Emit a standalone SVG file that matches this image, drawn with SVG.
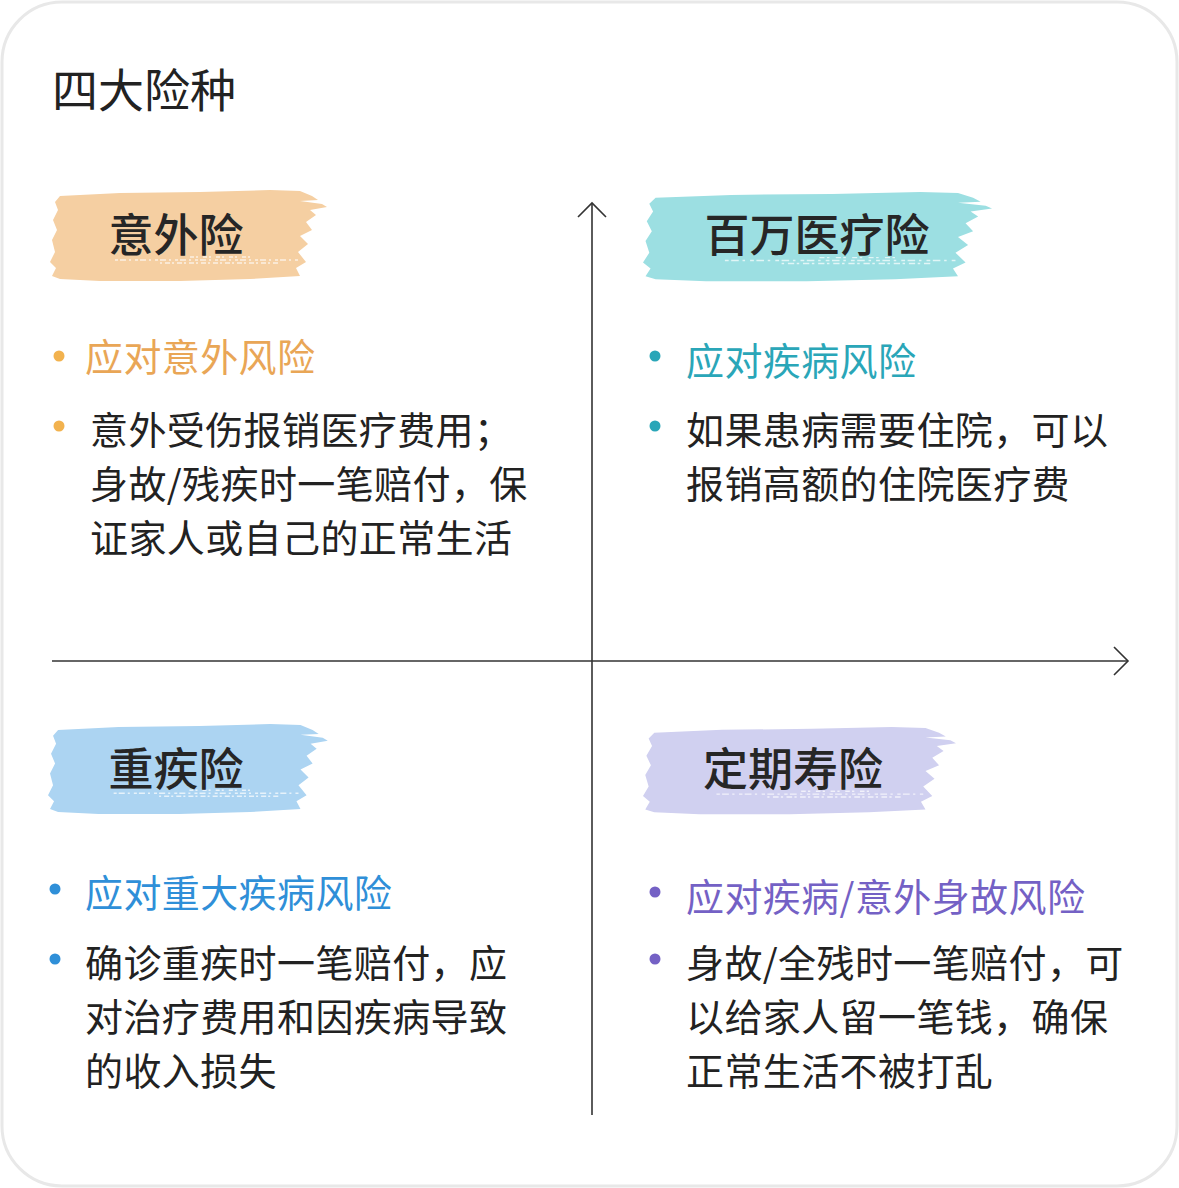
<svg xmlns="http://www.w3.org/2000/svg" width="1179" height="1188" viewBox="0 0 1179 1188">
<style>
text{font-family:"Noto Sans CJK SC","Noto Sans",sans-serif;}
.title{font-size:46px;fill:#222;}
.head{font-size:45px;font-weight:500;fill:#262626;text-anchor:middle;}
.sub{font-size:38px;letter-spacing:0.4px;}
.body{font-size:38px;letter-spacing:0.4px;fill:#222;}
.axis{stroke:#333;stroke-width:1.6;fill:none;}
.speck{stroke:#fff;stroke-width:1.4;stroke-dasharray:3 2 6 3 2 4;opacity:0.7;fill:none;}
</style>
<defs>
<path id="brush" d="M 10 8 L 70 5 L 150 4 L 220 2 L 250 3 L 262 8 L 268 12 L 250 13 L 272 16 L 277 19 L 260 22 L 266 27 L 256 34 L 262 42 L 250 48 L 258 56 L 248 64 L 256 74 L 246 80 L 250 88 L 200 91 L 130 93 L 50 93 L 10 91 L 2 88 L 6 80 L 0 74 L 5 64 L 2 52 L 7 42 L 3 32 L 8 22 L 5 14 Z"/>
<g id="specks">
<path class="speck" d="M 65 72 L 250 72"/>
<path class="speck" d="M 110 75 L 230 75" style="stroke-dasharray:2 3 5 2"/>
<path class="speck" d="M 140 69 L 200 69" style="stroke-dasharray:4 2 2 5"/>
</g>
</defs>
<rect x="2" y="2" width="1175" height="1184" rx="60" ry="60" fill="#fff" stroke="#e8e8e8" stroke-width="3"/>
<text class="title" x="52" y="107">四大险种</text>

<g id="connectors">
<line class="axis" x1="592" y1="203" x2="592" y2="1115"/>
<polyline class="axis" points="578,217 592,203 606,217"/>
<line class="axis" x1="52" y1="661" x2="1128" y2="661"/>
<polyline class="axis" points="1114,647 1128,661 1114,675"/>
</g>

<g id="node-accident">
<g transform="translate(50,188)"><use href="#brush" fill="#f5cfa2"/><use href="#specks"/></g>
<text class="head" x="176" y="252">意外险</text>
<circle cx="59" cy="356" r="5.5" fill="#f2b24e"/>
<text class="sub" x="85" y="371" fill="#e9a656">应对意外风险</text>
<circle cx="59" cy="426" r="5.5" fill="#f2b24e"/>
<text class="body" x="90" y="444">意外受伤报销医疗费用；</text>
<text class="body" x="90" y="498">身故/残疾时一笔赔付，保</text>
<text class="body" x="90" y="552">证家人或自己的正常生活</text>
</g>

<g id="node-medical">
<g transform="translate(643,190) scale(1.26,0.98)"><use href="#brush" fill="#9cdfe2"/><use href="#specks"/></g>
<text class="head" x="817" y="252">百万医疗险</text>
<circle cx="655" cy="356" r="5.5" fill="#2aa6b8"/>
<text class="sub" x="686" y="375" fill="#2aa6b8">应对疾病风险</text>
<circle cx="655" cy="426" r="5.5" fill="#2aa6b8"/>
<text class="body" x="686" y="444">如果患病需要住院，可以</text>
<text class="body" x="686" y="498">报销高额的住院医疗费</text>
</g>

<g id="node-critical">
<g transform="translate(48,722) scale(1.01,0.99)"><use href="#brush" fill="#acd4f2"/><use href="#specks"/></g>
<text class="head" x="176" y="786">重疾险</text>
<circle cx="55" cy="889" r="5.5" fill="#2f8fd8"/>
<text class="sub" x="85" y="907" fill="#2f8fd8">应对重大疾病风险</text>
<circle cx="55" cy="959" r="5.5" fill="#2f8fd8"/>
<text class="body" x="85" y="977">确诊重疾时一笔赔付，应</text>
<text class="body" x="85" y="1031">对治疗费用和因疾病导致</text>
<text class="body" x="85" y="1085">的收入损失</text>
</g>

<g id="node-term">
<g transform="translate(643,725) scale(1.13,0.96)"><use href="#brush" fill="#d0d0f0"/><use href="#specks"/></g>
<text class="head" x="793" y="786">定期寿险</text>
<circle cx="655" cy="892" r="5.5" fill="#7461c5"/>
<text class="sub" x="686" y="911" fill="#7461c5">应对疾病/意外身故风险</text>
<circle cx="655" cy="959" r="5.5" fill="#7461c5"/>
<text class="body" x="686" y="977">身故/全残时一笔赔付，可</text>
<text class="body" x="686" y="1031">以给家人留一笔钱，确保</text>
<text class="body" x="686" y="1085">正常生活不被打乱</text>
</g>
</svg>
